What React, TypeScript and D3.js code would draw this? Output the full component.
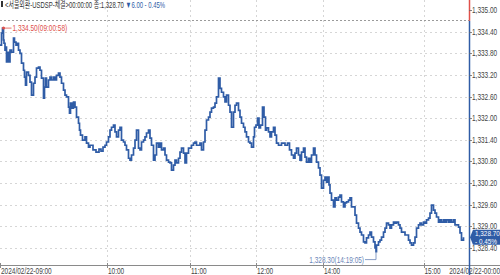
import React from "react";
import * as d3 from "d3";

// tick sequence number (trade order) and traded price
const tickSeq = [
  0, 3, 5, 7, 8, 10, 12, 13, 16, 18, 20, 23, 27, 29, 32, 35, 37, 40, 43, 47, 49, 51, 53, 57, 60, 63, 67, 70, 73, 77,
  80, 83, 87, 89, 91, 93, 97, 100, 103, 107, 110, 113, 117, 120, 123, 127, 130, 133, 137, 139, 141, 144, 147, 150,
  153, 157, 159, 161, 165, 170, 173, 177, 180, 186, 192, 198, 202, 206, 210, 213, 217, 220, 223, 227, 230, 233, 237,
  240, 243, 247, 250, 253, 257, 260, 263, 267, 270, 273, 277, 280, 283, 287, 290, 293, 297, 300, 303, 307, 310, 313,
  317, 320, 323, 327, 330, 333, 337, 340, 343, 347, 350, 353, 357, 360, 363, 367, 370, 373, 377, 380, 383, 387, 390,
  393, 397, 400, 403, 407, 410, 413, 417, 420, 423, 427, 430, 433, 437, 440, 443, 447, 450, 453, 457, 460, 463, 467,
  470, 473, 477, 480, 483, 487, 490, 493, 497, 500, 503, 507, 509, 512, 515, 518, 521, 525, 528, 531, 533, 537, 540,
  543, 547, 550, 553, 557, 563, 570, 575, 579, 583, 587, 590, 593, 597, 600, 603, 607, 610, 613, 617, 620, 623, 627,
  630, 633, 637, 640, 643, 647, 650, 653, 655, 658, 660, 663, 667, 670, 673, 677, 680, 683, 687, 690, 693, 697, 700,
  703, 710, 713, 717, 720, 723, 727, 730, 733, 737, 740, 743, 747, 750, 752, 753, 757, 760, 763, 767, 770, 773, 777,
  780, 783, 787, 790, 793, 797, 800, 803, 810, 817, 820, 823, 827, 830, 833, 837, 840, 843, 847, 850, 853, 857, 860,
  863, 867, 870, 873, 877, 880, 883, 887, 890, 893, 897, 900, 903, 907, 910, 913, 917, 920, 923, 927,
];
const prices = [
  1334.03, 1334.36, 1334.5, 1334.17, 1334.08, 1333.89, 1333.97, 1333.56, 1333.83, 1333.56, 1333.89, 1333.83, 1334.22,
  1334.11, 1334.03, 1334.08, 1333.89, 1333.8, 1333.53, 1333.33, 1333.14, 1332.92, 1333.28, 1333.19, 1333.0, 1332.64,
  1332.97, 1333.14, 1333.39, 1333.42, 1333.33, 1333.11, 1332.56, 1332.86, 1333.11, 1332.86, 1333.06, 1333.14, 1333.06,
  1333.14, 1333.06, 1333.19, 1333.25, 1333.14, 1332.97, 1332.78, 1332.64, 1332.59, 1332.31, 1332.14, 1332.42, 1332.28,
  1332.45, 1332.31, 1332.03, 1331.86, 1331.67, 1331.53, 1331.39, 1331.48, 1331.31, 1331.2, 1331.25, 1331.12, 1331.06,
  1331.14, 1331.09, 1331.2, 1331.25, 1331.34, 1331.48, 1331.67, 1331.75, 1331.81, 1331.62, 1331.48, 1331.67, 1331.75,
  1331.39, 1331.34, 1331.25, 1331.12, 1330.89, 1330.84, 1330.98, 1331.17, 1331.39, 1331.67, 1331.17, 1331.12, 1331.34,
  1331.39, 1331.48, 1331.59, 1331.67, 1331.45, 1331.25, 1330.84, 1330.98, 1331.31, 1331.2, 1331.31, 1331.12, 1331.17,
  1330.98, 1330.84, 1330.78, 1330.76, 1330.56, 1330.7, 1330.84, 1330.76, 1330.89, 1331.06, 1331.17, 1331.03, 1330.76,
  1331.03, 1331.17, 1331.17, 1331.25, 1331.31, 1331.34, 1331.25, 1331.25, 1331.31, 1331.12, 1331.34, 1331.67, 1331.95,
  1332.03, 1332.17, 1332.28, 1332.31, 1332.42, 1332.59, 1333.11, 1332.83, 1332.72, 1332.59, 1332.45, 1332.64, 1332.36,
  1332.17, 1331.75, 1332.17, 1332.36, 1332.42, 1332.22, 1332.03, 1331.86, 1331.75, 1331.62, 1331.48, 1331.34, 1331.31,
  1331.2, 1331.48, 1331.75, 1331.81, 1332.0, 1331.73, 1331.81, 1332.31, 1332.03, 1331.67, 1331.73, 1331.62, 1331.48,
  1331.62, 1331.75, 1331.53, 1331.31, 1331.25, 1331.31, 1331.25, 1331.31, 1331.12, 1330.98, 1330.89, 1331.03, 1331.17,
  1330.98, 1330.84, 1331.06, 1331.17, 1330.92, 1330.78, 1330.89, 1330.78, 1330.98, 1331.17, 1330.98, 1330.78, 1330.62,
  1330.42, 1330.06, 1330.28, 1330.37, 1330.23, 1330.37, 1330.15, 1329.92, 1329.73, 1329.54, 1329.79, 1329.73, 1329.81,
  1329.87, 1329.68, 1329.54, 1329.65, 1329.68, 1329.73, 1329.79, 1329.54, 1329.31, 1329.09, 1328.95, 1328.84, 1328.76,
  1328.57, 1328.54, 1328.68, 1328.76, 1328.84, 1328.7, 1328.57, 1328.4, 1328.3, 1328.48, 1328.57, 1328.62, 1328.7,
  1328.84, 1328.95, 1329.09, 1329.04, 1328.95, 1329.04, 1329.12, 1329.09, 1329.12, 1329.04, 1328.95, 1328.84, 1328.76,
  1328.62, 1328.54, 1328.48, 1328.54, 1328.7, 1328.95, 1329.04, 1329.09, 1329.04, 1329.12, 1329.09, 1329.18, 1329.23,
  1329.37, 1329.59, 1329.45, 1329.37, 1329.26, 1329.12, 1329.18, 1329.12, 1329.18, 1329.12, 1329.18, 1329.12, 1329.18,
  1329.12, 1329.18, 1329.04, 1329.04, 1328.98, 1328.82, 1328.62, 1328.7,
];

const priceTicks = [1335.0, 1334.4, 1333.8, 1333.2, 1332.6, 1332.0, 1331.4, 1330.8, 1330.2, 1329.6, 1329.0, 1328.4];
const gridPrices = priceTicks.slice(1);
const timeTickSeq = [0, 214, 380, 512, 646, 847];
const timeTickLabels = ["2024/02/22-09:00", "10:00", "11:00", "12:00", "14:00", "15:00"];
const cursorDateLabel = "2024/02/22-00:00";

const prevClose = 1334.7;
const lastPrice = 1328.7;
const changeAbs = 6.0;
const changePct = -0.45;
const highSeq = 5;
const highPrice = 1334.5;
const highTime = "09:00:58";
const lowSeq = 752;
const lowPrice = 1328.3;
const lowTime = "14:19:05";
const titleMain = "<서울외환-USDSP-체결>00:00:00 종:";

const W = 500;
const H = 275;
const AXIS_X = 469;
const BASE_Y = 265;
const BLUE = "#2f5ca6";
const RED = "#e0504a";
const FONT = "'Liberation Sans', 'Noto Sans CJK KR', sans-serif";

function NText({ x, y, anchor = "start", fill = "#444", size = 9, sx = 0.72, children }: any) {
  return (
    <g transform={`translate(${x},${y}) scale(${sx},1)`}>
      <text x={0} y={0} fontSize={size} fill={fill} textAnchor={anchor}>
        {children}
      </text>
    </g>
  );
}

export default function App() {
  const x = d3.scaleLinear().domain([0, 938]).range([0, AXIS_X]);
  const y = d3.scaleLinear().domain([1328.4, 1334.4]).range([248, 31.7]);
  const fmt = d3.format(",.2f");
  const data = tickSeq.map((s, i) => [s, prices[i]] as [number, number]);
  const line = d3
    .line<[number, number]>()
    .x((d) => x(d[0]))
    .y((d) => y(d[1]))
    .curve(d3.curveStepAfter);
  const pcY = y(prevClose);
  const lastY = y(lastPrice);
  const hx = x(highSeq);
  const hy = y(highPrice);
  const lx = x(lowSeq);
  const ly = y(lowPrice);

  return (
    <svg
      width={W}
      height={H}
      style={{ position: "absolute", left: 0, top: 0, background: "#fff" }}
      fontFamily={FONT}
    >
      {/* horizontal grid */}
      {gridPrices.map((p) => (
        <line key={p} x1={0} x2={AXIS_X} y1={Math.round(y(p)) + 0.5} y2={Math.round(y(p)) + 0.5}
          stroke="#d6d6d6" strokeDasharray="2,3" />
      ))}
      {/* vertical grid */}
      {timeTickSeq.slice(1).map((s) => (
        <line key={s} x1={Math.round(x(s)) + 0.5} x2={Math.round(x(s)) + 0.5} y1={0} y2={BASE_Y}
          stroke="#d6d6d6" strokeDasharray="2,3" />
      ))}
      {/* previous close */}
      <line x1={0} x2={AXIS_X} y1={Math.round(pcY) - 0.5} y2={Math.round(pcY) - 0.5}
        stroke="#9a9a9a" strokeDasharray="2,2" />

      {/* price line */}
      <path d={line(data) || ""} fill="none" stroke={BLUE} strokeWidth={1.7} strokeLinejoin="miter" />

      {/* high annotation */}
      <circle cx={hx + 1} cy={hy} r={1.5} fill={RED} />
      <line x1={hx + 1} x2={hx + 9} y1={hy} y2={hy} stroke={RED} strokeWidth={0.8} />
      <NText x={hx + 10} y={hy + 3} fill={RED}>{`${fmt(highPrice)}(${highTime})`}</NText>

      {/* low annotation */}
      <polyline points={`${lx},${ly} ${lx},${ly + 8} ${lx - 11},${ly + 8}`} fill="none" stroke="#6b86b8" strokeWidth={0.8} />
      <NText x={lx - 12} y={ly + 11} fill="#6b86b8" anchor="end">{`${fmt(lowPrice)}(${lowTime})`}</NText>

      {/* bottom axis */}
      <line x1={0} x2={W} y1={BASE_Y + 0.5} y2={BASE_Y + 0.5} stroke="#8a8a8a" />
      {timeTickSeq.map((s, i) => (
        <g key={s}>
          <line x1={Math.round(x(s)) + 0.5} x2={Math.round(x(s)) + 0.5} y1={BASE_Y - 2} y2={BASE_Y + 3} stroke="#8a8a8a" />
          <NText x={x(s) + 1} y={274}>{timeTickLabels[i]}</NText>
        </g>
      ))}
      <NText x={W} y={274} anchor="end">{cursorDateLabel}</NText>

      {/* right axis */}
      <line x1={AXIS_X + 0.5} x2={AXIS_X + 0.5} y1={0} y2={pcY} stroke={RED} strokeWidth={1.5} />
      <line x1={AXIS_X + 0.5} x2={AXIS_X + 0.5} y1={pcY} y2={H} stroke={BLUE} strokeWidth={1.5} />
      {priceTicks.map((p) => (
        <g key={p}>
          <line x1={AXIS_X} x2={AXIS_X + 3} y1={Math.round(y(p)) + 0.5} y2={Math.round(y(p)) + 0.5} stroke="#666" strokeWidth={0.8} />
          <NText x={AXIS_X + 3} y={y(p) + 3}>{fmt(p)}</NText>
        </g>
      ))}

      {/* last value box */}
      <path
        d={`M${AXIS_X + 1},${lastY} L${AXIS_X + 4},${lastY - 7.5} L${W},${lastY - 7.5} L${W},${lastY + 7.5} L${AXIS_X + 4},${lastY + 7.5} Z`}
        fill={BLUE}
      />
      <NText x={AXIS_X + 6} y={lastY - 1} fill="#fff" size={7.5} sx={0.85}>{fmt(lastPrice)}</NText>
      <NText x={AXIS_X + 6} y={lastY + 6.5} fill="#fff" size={7.5} sx={0.85}>{`- ${Math.abs(changePct).toFixed(2)}%`}</NText>

      {/* title */}
      <rect x={1} y={1} width={2} height={6} fill="#333" />
      <NText x={5} y={8} fill="#333" sx={0.66}>
        {titleMain}
        {fmt(lastPrice)}
        <tspan fill={BLUE}>{` ▼${changeAbs.toFixed(2)}  ${changePct.toFixed(2).replace("-", "- ")}%`}</tspan>
      </NText>
    </svg>
  );
}
